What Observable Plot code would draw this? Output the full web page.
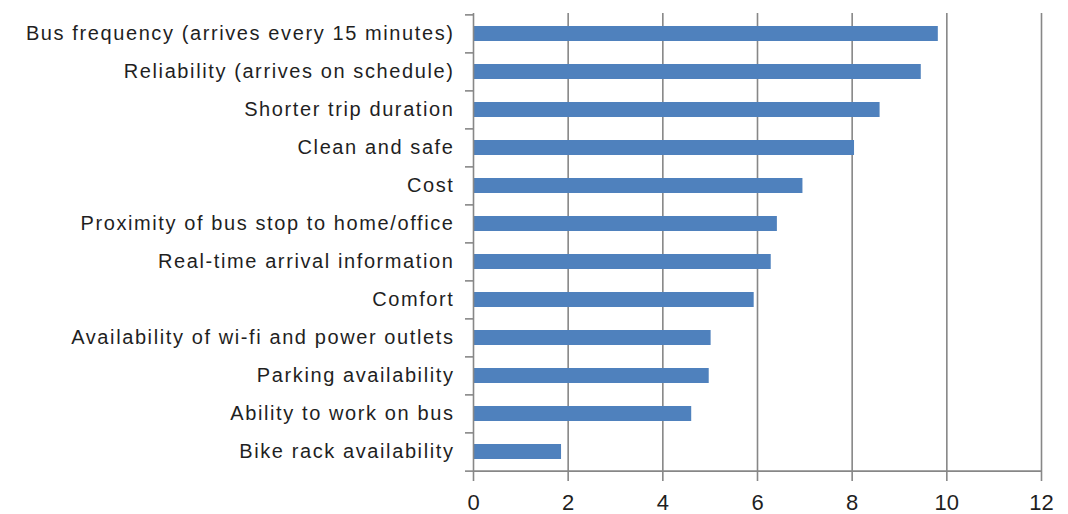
<!DOCTYPE html>
<html>
<head>
<meta charset="utf-8">
<script src="https://cdn.jsdelivr.net/npm/d3@7"></script>
<script src="https://cdn.jsdelivr.net/npm/@observablehq/plot@0.6"></script>
<style>
  html, body { margin: 0; padding: 0; background: #fff; }
  #chart svg { display: block; }
  .ylab text { letter-spacing: 1.6px; }
</style>
</head>
<body>
<div id="chart"></div>
<script>
const categories = [
  "Bus frequency (arrives every 15 minutes)",
  "Reliability (arrives on schedule)",
  "Shorter trip duration",
  "Clean and safe",
  "Cost",
  "Proximity of bus stop to home/office",
  "Real-time arrival information",
  "Comfort",
  "Availability of wi-fi and power outlets",
  "Parking availability",
  "Ability to work on bus",
  "Bike rack availability"
];
const values = [9.82, 9.46, 8.59, 8.05, 6.96, 6.42, 6.29, 5.93, 5.02, 4.98, 4.61, 1.86];
const xTicks = [0, 2, 4, 6, 8, 10, 12];

const data = categories.map((c, i) => ({category: c, value: values[i]}));

const W = 1068, H = 514;
const mTop = 13, mBottom = 42, mLeft = 473, mRight = 27;
const step = (H - mTop - mBottom) / categories.length;
const half = step / 2;
const grey = "#878787";
const font = "'Liberation Sans', Arial, sans-serif";

const chart = Plot.plot({
  width: W,
  height: H,
  marginTop: mTop,
  marginBottom: mBottom,
  marginLeft: mLeft,
  marginRight: mRight,
  style: {fontFamily: font, fontSize: "20px", color: "#1f1f1f", background: "#fff"},
  x: {domain: [0, 12], label: null},
  y: {domain: categories, paddingInner: 0.6, paddingOuter: 0.3, label: null},
  marks: [
    Plot.gridX(xTicks.filter(d => d > 0), {stroke: grey, strokeOpacity: 1, strokeWidth: 1.6}),
    Plot.barX(data, {y: "category", x: "value", fill: "#4F81BD"}),
    Plot.ruleX([0], {stroke: grey, strokeWidth: 1.6}),
    Plot.ruleY([categories[categories.length - 1]], {stroke: grey, strokeWidth: 1.6, dy: half}),
    Plot.axisY({tickSize: 0, tickPadding: 19, fontSize: 20, fill: "#1f1f1f", className: "ylab"}),
    Plot.axisY({tickSize: 8, text: null, dy: -half, stroke: grey, strokeWidth: 1.6}),
    Plot.axisY({ticks: [categories[categories.length - 1]], tickSize: 8, text: null, dy: half, stroke: grey, strokeWidth: 1.6}),
    Plot.axisX({ticks: xTicks, tickSize: 9, tickPadding: 13, fontSize: 22, fill: "#1f1f1f", stroke: grey, strokeWidth: 1.6, label: null})
  ]
});
document.getElementById("chart").appendChild(chart);
</script>
</body>
</html>
